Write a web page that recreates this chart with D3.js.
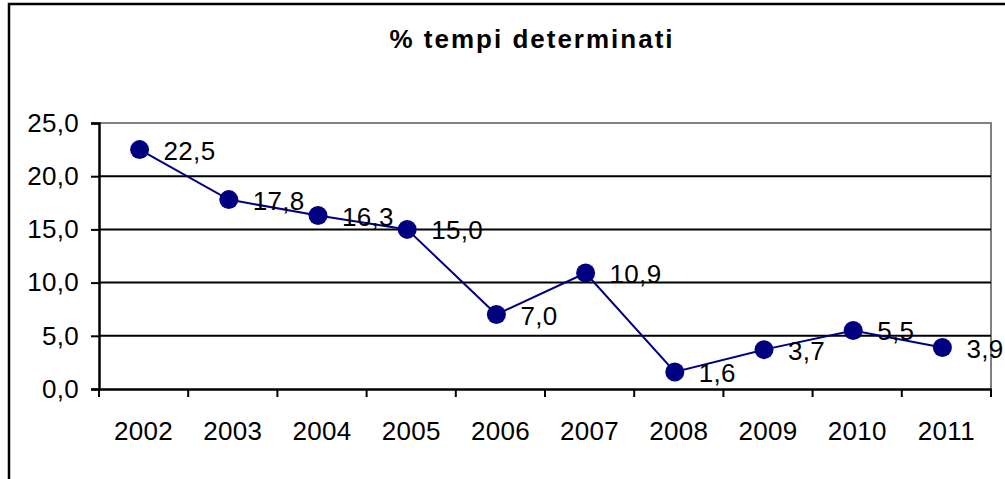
<!DOCTYPE html>
<html>
<head>
<meta charset="utf-8">
<script src="https://cdn.jsdelivr.net/npm/d3@7"></script>
<style>
  body { margin: 0; background: #fff; }
  svg text { font-family: "Liberation Sans", Arial, sans-serif; fill: #000; }
</style>
</head>
<body>
<script>
'use strict';

// chart data
let years = ["2002", "2003", "2004", "2005", "2006", "2007", "2008", "2009", "2010", "2011"];
let values = [22.5, 17.8, 16.3, 15.0, 7.0, 10.9, 1.6, 3.7, 5.5, 3.9];
let yTicks = [0, 5, 10, 15, 20, 25];
let title = "% tempi determinati";

let svg = d3.select('body')
  .append('svg')
  .attr('width', 1005)
  .attr('height', 479);

// outer chart frame (runs past the right and bottom edge)
svg.append('rect')
  .attr('x', 9)
  .attr('y', 4)
  .attr('width', 1100)
  .attr('height', 600)
  .attr('fill', '#fff')
  .attr('stroke', '#000')
  .attr('stroke-width', 2.5);

let xScale = d3.scaleBand()
  .domain(years)
  .range([99, 991]);

let yScale = d3.scaleLinear()
  .domain([0, 25])
  .range([389, 123]);

// plot area border (grey top / right)
svg.append('path')
  .attr('d', `M${xScale.range()[0]},${yScale(25)}H${xScale.range()[1]}V${yScale(0)}`)
  .attr('fill', 'none')
  .attr('stroke', '#808080')
  .attr('stroke-width', 2);

// horizontal gridlines
svg.append('g')
  .selectAll('line')
  .data(yTicks.filter(d => d > 0 && d < 25))
  .enter()
  .append('line')
    .attr('x1', xScale.range()[0])
    .attr('x2', xScale.range()[1])
    .attr('y1', d => yScale(d))
    .attr('y2', d => yScale(d))
    .attr('stroke', '#000')
    .attr('stroke-width', 2);

// y axis
let yAxis = d3.axisLeft(yScale)
  .tickValues(yTicks)
  .tickSize(8)
  .tickPadding(12)
  .tickFormat(d => d3.format('.1f')(d).replace('.', ','));
let gy = svg.append('g')
  .attr('transform', 'translate(99, 0)')
  .call(yAxis);

// x axis: ticks between categories
let xAxis = d3.axisBottom(xScale)
  .tickSize(0)
  .tickPadding(33);
let gx = svg.append('g')
  .attr('transform', 'translate(0, 389)')
  .call(xAxis);

svg.append('g')
  .selectAll('line')
  .data(years.concat(['end']))
  .enter()
  .append('line')
    .attr('x1', (d, i) => xScale.range()[0] + i * xScale.step())
    .attr('x2', (d, i) => xScale.range()[0] + i * xScale.step())
    .attr('y1', 389)
    .attr('y2', 397)
    .attr('stroke', '#000')
    .attr('stroke-width', 2);

[gx, gy].forEach(g => {
  g.select('.domain').attr('stroke', '#000').attr('stroke-width', 2.5);
  g.selectAll('.tick line').attr('stroke', '#000').attr('stroke-width', 2);
  g.selectAll('.tick text')
    .style('font-size', '26px')
    .style('letter-spacing', '0.3px')
    .attr('fill', '#000');
});

// markers sit a little left of the band centre
let px = d => xScale(d) + xScale.bandwidth() / 2 - 4;

let line = d3.line()
  .x((d, i) => px(years[i]))
  .y(d => yScale(d));

svg.append('path')
  .attr('d', line(values))
  .attr('fill', 'none')
  .attr('stroke', '#000080')
  .attr('stroke-width', 2);

svg.append('g')
  .selectAll('circle')
  .data(values)
  .enter()
  .append('circle')
    .attr('cx', (d, i) => px(years[i]))
    .attr('cy', d => yScale(d))
    .attr('r', 9.5)
    .attr('fill', '#000080');

// data labels
svg.append('g')
  .selectAll('text')
  .data(values)
  .enter()
  .append('text')
    .attr('x', (d, i) => px(years[i]) + 24)
    .attr('y', d => yScale(d) + 10)
    .style('font-size', '26px')
    .style('letter-spacing', '0.3px')
    .text(d => d3.format('.1f')(d).replace('.', ','));

// title
svg.append('text')
  .attr('x', 532)
  .attr('y', 48)
  .attr('text-anchor', 'middle')
  .style('font-size', '26px')
  .style('font-weight', 'bold')
  .style('letter-spacing', '2px')
  .text(title);
</script>
</body>
</html>
